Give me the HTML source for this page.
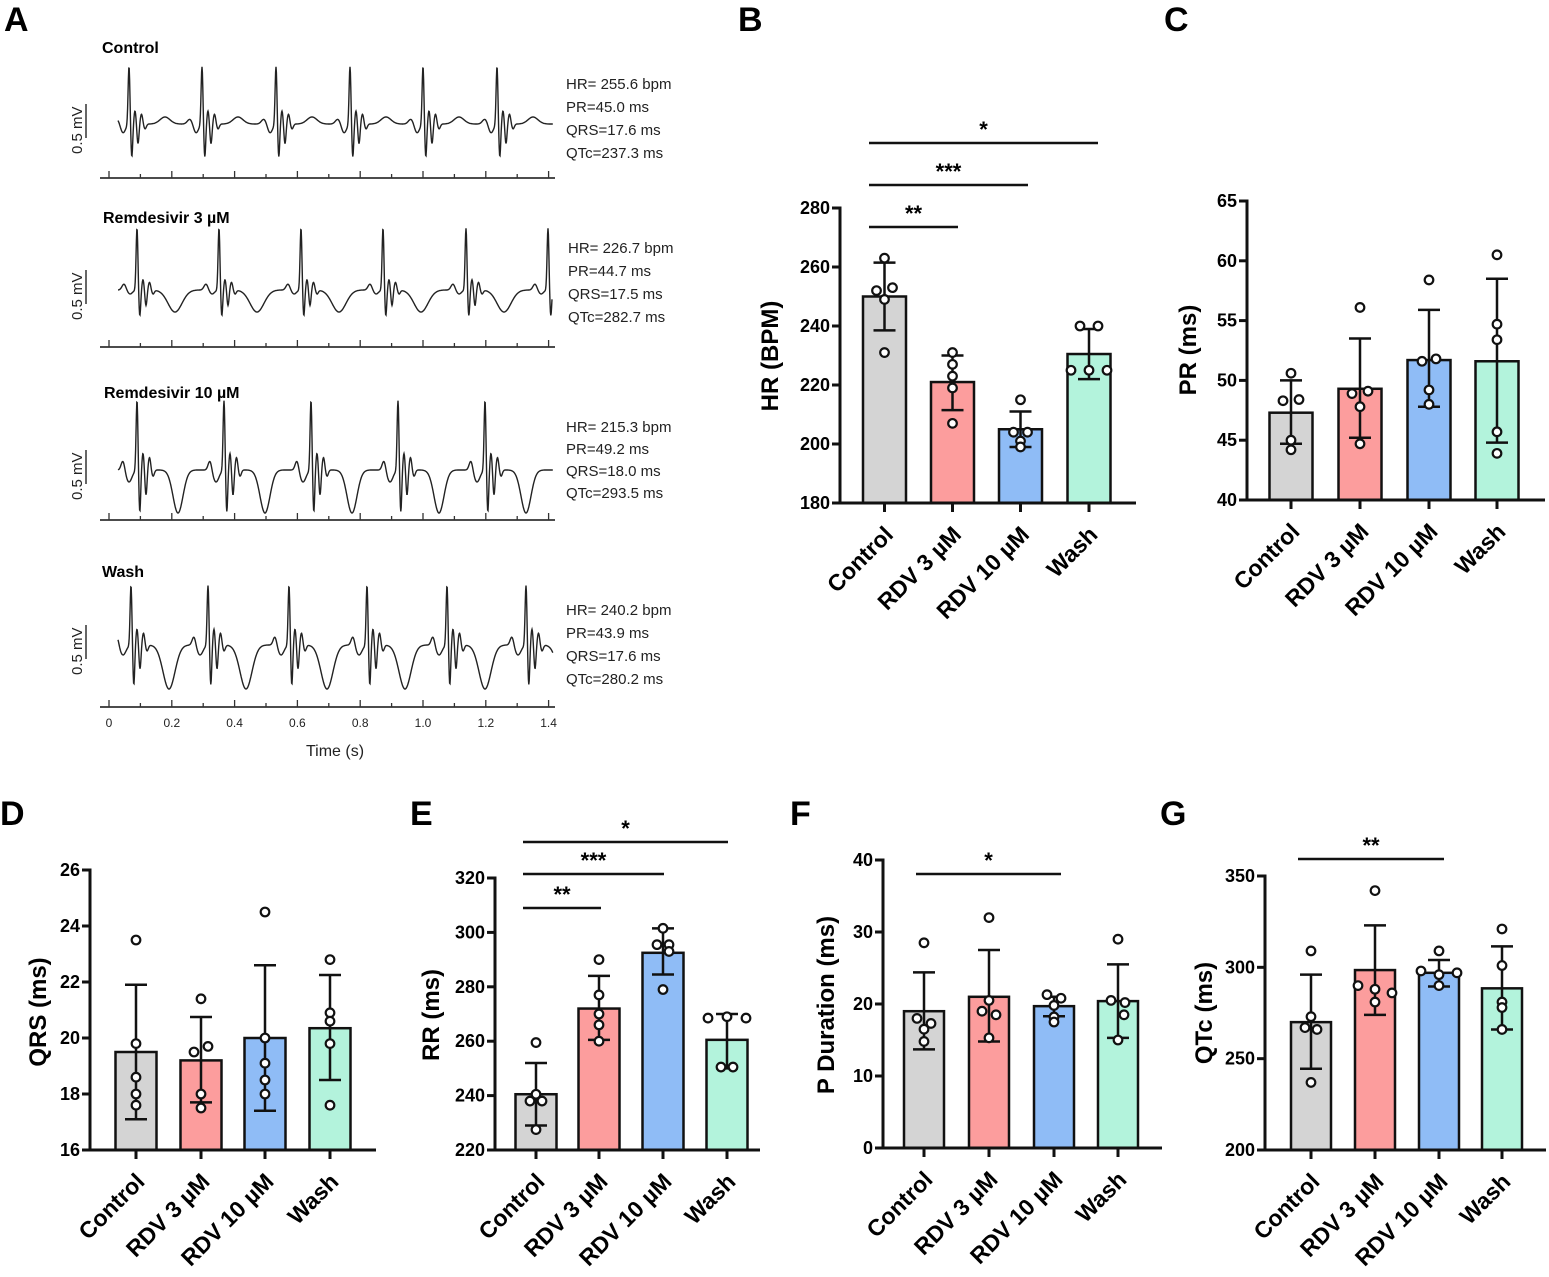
<!DOCTYPE html>
<html><head><meta charset="utf-8">
<style>
html,body{margin:0;padding:0;background:#fff;}
svg{display:block;font-family:"Liberation Sans",Arial,sans-serif;}
</style></head>
<body>
<svg id="s" width="1549" height="1277" viewBox="0 0 1549 1277" xmlns="http://www.w3.org/2000/svg">
<g font-weight="bold" font-size="34">
<text x="4" y="31">A</text>
<text x="738" y="31">B</text>
<text x="1164" y="31">C</text>
<text x="0" y="825">D</text>
<text x="410" y="825">E</text>
<text x="790" y="825">F</text>
<text x="1160" y="825">G</text>
</g>
<g font-size="15" fill="#222">
<text x="566" y="89">HR= 255.6 bpm</text><text x="566" y="112">PR=45.0 ms</text><text x="566" y="135">QRS=17.6 ms</text><text x="566" y="158">QTc=237.3 ms</text>
<text x="568" y="253">HR= 226.7 bpm</text><text x="568" y="276">PR=44.7 ms</text><text x="568" y="299">QRS=17.5 ms</text><text x="568" y="322">QTc=282.7 ms</text>
<text x="566" y="432">HR= 215.3 bpm</text><text x="566" y="454">PR=49.2 ms</text><text x="566" y="476">QRS=18.0 ms</text><text x="566" y="498">QTc=293.5 ms</text>
<text x="566" y="615">HR= 240.2 bpm</text><text x="566" y="638">PR=43.9 ms</text><text x="566" y="661">QRS=17.6 ms</text><text x="566" y="684">QTc=280.2 ms</text>
</g>
<g font-size="16" font-weight="bold">
<text x="102" y="53">Control</text>
<text x="103" y="223">Remdesivir 3 µM</text>
<text x="104" y="398">Remdesivir 10 µM</text>
<text x="102" y="577">Wash</text>
</g>
<g id="ecg"></g>
<g id="bars"></g>
</svg>
<script>
var out="";
function g(x,c,w){return Math.exp(-((x-c)*(x-c))/(2*w*w));}
var traces=[
 {y:124,ax:178,spikes:[129,202,276,350,423,497],R:58,S:33,T:{a:-7,c:36,w:5},P:{a:-5,c:-12,w:2.5},Q:{a:9,c:-6,w:2.5},end:553},
 {y:290,ax:347,spikes:[137,219,301,383,466,548],R:62,S:26,T:{a:22,c:38,w:7},P:{a:-6,c:-13,w:2},Q:{a:4,c:-7,w:2.5},end:552},
 {y:470,ax:520,spikes:[137,224,311,398,485],R:70,S:42,T:{a:43,c:41,w:5},P:{a:-10,c:-14,w:1.8},Q:{a:12,c:-8,w:3},end:553},
 {y:645,ax:707,spikes:[131,208,289,367,447,526],R:60,S:40,T:{a:44,c:38,w:6},P:{a:-9,c:-14,w:1.8},Q:{a:10,c:-8,w:3},end:553}
];
traces.forEach(function(tr){
  var d="";
  for(var x=118;x<=tr.end;x+=0.4){
    var v=0;
    tr.spikes.forEach(function(s){
      var r=x-s;
      if(r<-40||r>80)return;
      v+=-tr.R*g(r,0,0.9)+tr.S*g(r,2.8,0.9)-tr.S*0.4*g(r,6,1)+tr.S*0.6*g(r,9,1)-tr.S*0.3*g(r,12.5,1.2)+tr.S*0.15*g(r,16,1.3);
      v+=tr.T.a*g(r,tr.T.c,tr.T.w)+tr.P.a*g(r,tr.P.c,tr.P.w)+tr.Q.a*g(r,tr.Q.c,tr.Q.w);
    });
    d+=(d?"L":"M")+x.toFixed(1)+" "+(tr.y+v).toFixed(1);
  }
  out+='<path d="'+d+'" fill="none" stroke="#222" stroke-width="1.4"/>';
  out+='<line x1="100" y1="'+tr.ax+'" x2="555" y2="'+tr.ax+'" stroke="#333" stroke-width="1.8"/>';
  for(var i=0;i<=14;i++){var tx=109+i*31.4;out+='<line x1="'+tx+'" y1="'+tr.ax+'" x2="'+tx+'" y2="'+(tr.ax-(i%2?4:7))+'" stroke="#333" stroke-width="1.3"/>';}
  out+='<line x1="86" y1="'+(tr.y-20)+'" x2="86" y2="'+(tr.y+14)+'" stroke="#333" stroke-width="1.5"/>';
  out+='<text transform="translate(82,'+(tr.y+30)+') rotate(-90)" font-size="15" fill="#222">0.5 mV</text>';
});
var labs=["0","0.2","0.4","0.6","0.8","1.0","1.2","1.4"];
labs.forEach(function(l,i){out+='<text x="'+(109+i*62.8)+'" y="727" font-size="12" text-anchor="middle" fill="#222">'+l+'</text>';});
out+='<text x="335" y="756" font-size="16" text-anchor="middle" fill="#222">Time (s)</text>';
document.getElementById("ecg").innerHTML=out;

var cols=["#d4d4d4","#fc9d9d","#8fbcf6","#b3f3dc"];
var names=["Control","RDV 3 µM","RDV 10 µM","Wash"];
var o="";
function bar(c){
  var sy=function(v){return c.y0+(v-c.vmin)/(c.vmax-c.vmin)*(c.y1-c.y0);};
  var bw=c.bw||43;
  c.data.forEach(function(d,i){
    var cx=c.cx[i];
    o+='<rect x="'+(cx-bw/2)+'" y="'+sy(d[0])+'" width="'+bw+'" height="'+(c.y0-sy(d[0]))+'" fill="'+cols[i]+'" stroke="#111" stroke-width="2.5"/>';
  });
  c.data.forEach(function(d,i){
    var cx=c.cx[i];
    o+='<line x1="'+cx+'" y1="'+sy(d[1])+'" x2="'+cx+'" y2="'+sy(d[2])+'" stroke="#111" stroke-width="2.5"/>';
    o+='<line x1="'+(cx-11)+'" y1="'+sy(d[1])+'" x2="'+(cx+11)+'" y2="'+sy(d[1])+'" stroke="#111" stroke-width="2.5"/>';
    o+='<line x1="'+(cx-11)+'" y1="'+sy(d[2])+'" x2="'+(cx+11)+'" y2="'+sy(d[2])+'" stroke="#111" stroke-width="2.5"/>';
    d[3].forEach(function(p){o+='<circle cx="'+(cx+p[1])+'" cy="'+sy(p[0])+'" r="4.3" fill="#fff" stroke="#111" stroke-width="2.2"/>';});
  });
  o+='<line x1="'+c.ax+'" y1="'+(c.y1-1.5)+'" x2="'+c.ax+'" y2="'+(c.y0+1.5)+'" stroke="#111" stroke-width="3"/>';
  o+='<line x1="'+c.ax+'" y1="'+c.y0+'" x2="'+c.end+'" y2="'+c.y0+'" stroke="#111" stroke-width="3"/>';
  c.ticks.forEach(function(t){var y=sy(t);
    o+='<line x1="'+(c.ax-8)+'" y1="'+y+'" x2="'+c.ax+'" y2="'+y+'" stroke="#111" stroke-width="3"/>';
    o+='<text x="'+(c.ax-10)+'" y="'+(y+6)+'" font-size="18" font-weight="bold" text-anchor="end">'+t+'</text>';});
  c.cx.forEach(function(cx,i){
    o+='<line x1="'+cx+'" y1="'+c.y0+'" x2="'+cx+'" y2="'+(c.y0+9)+'" stroke="#111" stroke-width="3"/>';
    o+='<text transform="translate('+(cx+10)+','+(c.y0+33)+') rotate(-45)" font-size="23" font-weight="bold" text-anchor="end">'+names[i]+'</text>';});
  o+='<text transform="translate('+c.ylx+','+c.yly+') rotate(-90)" font-size="24" font-weight="bold" text-anchor="middle">'+c.yl+'</text>';
  (c.sig||[]).forEach(function(s){
    o+='<line x1="'+s[0]+'" y1="'+s[2]+'" x2="'+s[1]+'" y2="'+s[2]+'" stroke="#111" stroke-width="2.5"/>';
    o+='<text x="'+((s[0]+s[1])/2)+'" y="'+(s[2]-6)+'" font-size="22" font-weight="bold" text-anchor="middle">'+s[3]+'</text>';});
}
bar({ax:840,y0:503,y1:208,vmin:180,vmax:280,ticks:[180,200,220,240,260,280],cx:[884.5,952.5,1020.5,1089],end:1136,yl:"HR (BPM)",ylx:778,yly:356,
 data:[[250,238.5,261.5,[[263,0],[252,-8],[253,8],[249,0],[231,0]]],
       [221,211.5,230,[[231,0],[227,0],[223,0],[219,0],[207,0]]],
       [205,199,211,[[215,0],[204,-7],[204,7],[201,0],[199,0]]],
       [230.5,222,239,[[240,-9],[240,9],[225,-18],[225,0],[225,18]]]],
 sig:[[869,958,227,"**"],[869,1028,185,"***"],[869,1098,143,"*"]]});
bar({ax:1247,y0:500,y1:201,vmin:40,vmax:65,ticks:[40,45,50,55,60,65],cx:[1291,1360,1429,1497],end:1545,yl:"PR (ms)",ylx:1196,yly:350,
 data:[[47.3,44.7,50,[[50.6,0],[48.3,-8],[48.4,8],[45,0],[44.2,0]]],
       [49.3,45.2,53.5,[[56.1,0],[48.9,-8],[49.1,8],[47.8,0],[44.7,0]]],
       [51.7,47.8,55.9,[[58.4,0],[51.6,-7],[51.8,7],[49.2,0],[48,0]]],
       [51.6,44.8,58.5,[[60.5,0],[54.7,0],[53.4,0],[45.7,0],[43.9,0]]]]});
bar({ax:90,y0:1150,y1:870,vmin:16,vmax:26,ticks:[16,18,20,22,24,26],cx:[136,201,265,330],bw:41,end:376,yl:"QRS (ms)",ylx:46,yly:1012,
 data:[[19.5,17.1,21.9,[[23.5,0],[19.8,0],[18.6,0],[18,0],[17.6,0]]],
       [19.2,17.7,20.75,[[21.4,0],[19.5,-7],[19.7,7],[18,0],[17.5,0]]],
       [20,17.4,22.6,[[24.5,0],[20,0],[19.1,0],[18.5,0],[18,0]]],
       [20.35,18.5,22.25,[[22.8,0],[20.9,0],[20.6,0],[19.8,0],[17.6,0]]]]});
bar({ax:495,y0:1150,y1:878,vmin:220,vmax:320,ticks:[220,240,260,280,300,320],cx:[536,599,663,727],bw:41,end:760,yl:"RR (ms)",ylx:439,yly:1015,
 data:[[240.5,229,252,[[259.5,0],[240.5,0],[238,-6],[238,6],[227.5,0]]],
       [272,260.5,284,[[290,0],[277,0],[270,0],[266,0],[260,0]]],
       [292.5,284.5,301.5,[[301.5,0],[295.5,-6],[295.5,6],[293,6],[279,0]]],
       [260.5,250,270,[[268.5,-19],[269,0],[268.5,19],[250.5,-6],[250.5,6]]]],
 sig:[[523,601,908,"**"],[523,664,874,"***"],[523,728,842,"*"]]});
bar({ax:883,y0:1148,y1:860,vmin:0,vmax:40,ticks:[0,10,20,30,40],cx:[924,989,1054,1118],bw:40,end:1162,yl:"P Duration (ms)",ylx:834,yly:1005,
 data:[[19,13.7,24.4,[[28.5,0],[18,-7],[17.3,7],[16.5,0],[14.8,0]]],
       [21,14.8,27.5,[[32,0],[20.5,0],[19,-7],[18.5,7],[15.3,0]]],
       [19.7,18.3,21,[[21.3,-7],[20.8,7],[19.8,0],[18.2,0],[17.5,0]]],
       [20.4,15.3,25.5,[[29,0],[20.5,-7],[20.2,7],[18.5,6],[15,0]]]],
 sig:[[916,1061,874,"*"]]});
bar({ax:1265,y0:1150,y1:876,vmin:200,vmax:350,ticks:[200,250,300,350],cx:[1311,1375,1439,1502],bw:40,end:1546,yl:"QTc (ms)",ylx:1212,yly:1013,
 data:[[270,244.5,296,[[309,0],[273,0],[267,-6],[266,6],[237,0]]],
       [298.5,274,323,[[342,0],[290,-17],[288,0],[286,17],[281,0]]],
       [297,289.5,304,[[309,0],[298,-18],[296,0],[297,18],[290,0]]],
       [288.5,266,311.5,[[321,0],[301,0],[281,0],[278,0],[266,0]]]],
 sig:[[1298,1444,859,"**"]]});
document.getElementById("bars").innerHTML=o;
</script>
</body></html>
